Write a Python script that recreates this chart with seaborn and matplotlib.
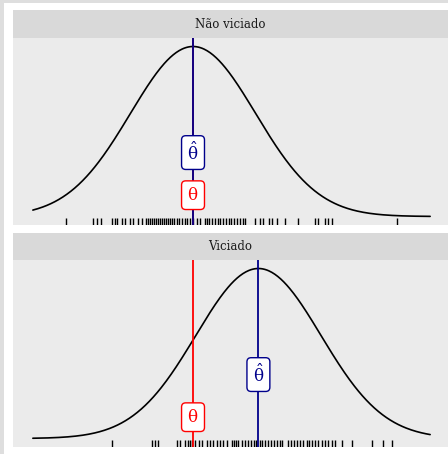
import numpy as np
import pandas as pd
import matplotlib
matplotlib.use("Agg")
import matplotlib.pyplot as plt
import seaborn as sns
from matplotlib.patches import Rectangle

# ---- data ----
panels = ["Não viciado", "Viciado"]
theta = [0.0, 0.0]
theta_hat = [0.0, 1.045]
sigma = 1.0
curve_min = -2.56
curve_max = 3.79

rug_nao_viciado = [-2.032, -1.6, -1.536, -1.472, -1.296, -1.248, -1.216, -1.136, -1.088, -1.008,
                   -0.96, -0.88, -0.816, -0.752, -0.72, -0.688, -0.656, -0.624, -0.592, -0.56,
                   -0.528, -0.496, -0.464, -0.432, -0.4, -0.368, -0.336, -0.304, -0.256, -0.224,
                   -0.176, -0.128, -0.096, -0.048, 0.0, 0.064, 0.112, 0.192, 0.224, 0.256,
                   0.304, 0.352, 0.4, 0.432, 0.48, 0.528, 0.576, 0.608, 0.656, 0.704,
                   0.752, 0.8, 0.832, 0.992, 1.072, 1.12, 1.216, 1.264, 1.344, 1.472,
                   1.68, 1.952, 2.0, 2.112, 2.16, 2.224, 3.264]
rug_viciado = [-1.296, -0.656, -0.608, -0.56, -0.256, -0.208, -0.128, -0.08, -0.048, -0.016,
               0.032, 0.096, 0.144, 0.224, 0.272, 0.32, 0.384, 0.432, 0.48, 0.544,
               0.624, 0.656, 0.688, 0.72, 0.784, 0.832, 0.88, 0.928, 0.976, 1.008,
               1.072, 1.104, 1.152, 1.2, 1.248, 1.296, 1.344, 1.392, 1.424, 1.52,
               1.568, 1.616, 1.664, 1.712, 1.76, 1.824, 1.856, 1.904, 1.952, 2.0,
               2.064, 2.112, 2.16, 2.224, 2.272, 2.384, 2.544, 2.864, 3.04, 3.184]
rugs = [rug_nao_viciado, rug_viciado]

label_theta = r"$\mathrm{\theta}$"
label_theta_hat = r"$\hat{\mathrm{\theta}}$"
label_y_theta = 0.05
label_y_theta_hat = 0.15

# ---- style ----
sns.set_style("white")
plt.rcParams["font.family"] = ["DejaVu Serif"]
plt.rcParams["mathtext.fontset"] = "dejavuserif"

W, H = 448, 454
fig = plt.figure(figsize=(W / 100, H / 100), dpi=100)
fig.patch.set_facecolor("#dedede")
fig.add_artist(Rectangle((4 / W, 0), 1, 1 - 3 / H, transform=fig.transFigure,
                         facecolor="white", edgecolor="none", zorder=0))

left = 13 / W
width = (450 - 13) / W
panel_px = [(38, 225), (260, 447)]
strip_px = [(10, 38), (233, 260)]

red = "#ff0000"
blue = "#00008b"

x_lo = curve_min - 0.05 * (curve_max - curve_min)
x_hi = curve_max + 0.05 * (curve_max - curve_min)
peak = 1 / (sigma * np.sqrt(2 * np.pi))

for i, name in enumerate(panels):
    t0, t1 = panel_px[i]
    ax = fig.add_axes([left, 1 - t1 / H, width, (t1 - t0) / H])
    ax.set_facecolor("#ebebeb")
    s0, s1 = strip_px[i]
    sax = fig.add_axes([left, 1 - s1 / H, width, (s1 - s0) / H])
    sax.set_facecolor("#d9d9d9")
    sax.set_xticks([]); sax.set_yticks([])
    for sp in sax.spines.values():
        sp.set_visible(False)
    sax.text(0.5 * (448 - 13) / (450 - 13), 0.5, name, transform=sax.transAxes,
             ha="center", va="center", fontsize=8.5, color="#1a1a1a")

    xs = np.linspace(curve_min, curve_max, 400)
    dens = np.exp(-0.5 * ((xs - theta_hat[i]) / sigma) ** 2) / (sigma * np.sqrt(2 * np.pi))
    df = pd.DataFrame({"x": xs, "d": dens})
    sns.lineplot(data=df, x="x", y="d", ax=ax, color="black", lw=1.2)

    sns.rugplot(x=rugs[i], ax=ax, height=0.04, color="black", lw=1.6, clip_on=True)

    ax.axvline(theta[i], color=red, lw=1.3, zorder=3)
    ax.axvline(theta_hat[i], color=blue, lw=1.3, zorder=4)

    ax.text(theta[i], label_y_theta, label_theta, ha="center", va="center", color=red,
            fontsize=12, zorder=5,
            bbox=dict(boxstyle="round,pad=0.35,rounding_size=0.25", fc="white", ec=red, lw=1.0))
    ax.text(theta_hat[i], label_y_theta_hat, label_theta_hat, ha="center", va="center", color=blue,
            fontsize=12, zorder=6,
            bbox=dict(boxstyle="round,pad=0.35,rounding_size=0.25", fc="white", ec=blue, lw=1.0))

    ax.set_xlim(x_lo, x_hi)
    ax.set_ylim(-0.05 * peak, 1.05 * peak)
    ax.set_xticks([]); ax.set_yticks([])
    ax.set_xlabel(""); ax.set_ylabel("")
    for sp in ax.spines.values():
        sp.set_visible(False)

fig.savefig("out.png", dpi=100)
